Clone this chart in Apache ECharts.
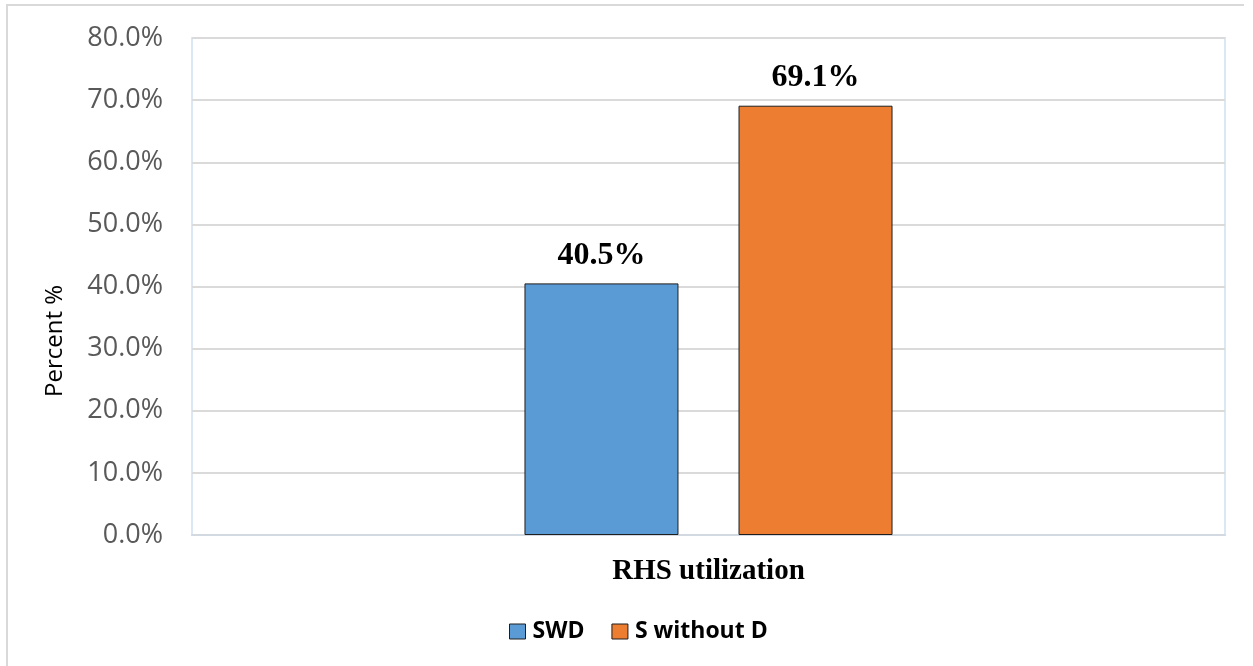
<!DOCTYPE html>
<html>
<head>
<meta charset="utf-8">
<style>
  html, body { margin: 0; padding: 0; background: #fff; }
  #chart { width: 1253px; height: 666px; }
</style>
<script src="https://cdn.jsdelivr.net/npm/echarts@6/dist/echarts.min.js"></script>
</head>
<body>
<div id="chart"></div>
<script>
// Category and series values
const categories = ['RHS utilization'];
const seriesNames = ['SWD', 'S without D'];
const swdValues = [40.5];
const sWithoutDValues = [69.1];
const yTicks = { min: 0, max: 80, interval: 10 };
const axisTitle = 'Percent %';

const chart = echarts.init(document.getElementById('chart'));

const labelStyle = {
  show: true,
  position: 'top',
  distance: 12,
  fontFamily: '"Liberation Serif", "DejaVu Serif", serif',
  fontWeight: 'bold',
  fontSize: 32,
  color: '#000',
  formatter: p => p.value.toFixed(1) + '%'
};

chart.setOption({
  backgroundColor: '#fff',
  animation: false,
  grid: {
    left: 192, right: 28, top: 38, bottom: 131,
    show: true,
    borderColor: '#dce7f5',
    borderWidth: 2,
    backgroundColor: 'transparent'
  },
  legend: {
    data: seriesNames,
    left: 504,
    top: 615,
    icon: 'rect',
    itemWidth: 16,
    itemHeight: 15,
    itemGap: 27,
    itemStyle: { borderColor: '#1e1e1e', borderWidth: 1 },
    textStyle: {
      fontFamily: '"Open Sans", "Noto Sans", sans-serif',
      fontWeight: 'bold',
      fontSize: 23,
      color: '#000',
      padding: [0, 0, 0, 2]
    }
  },
  xAxis: {
    type: 'category',
    data: categories,
    axisTick: { show: false },
    axisLine: { show: true, lineStyle: { color: '#d3d9e1', width: 2 } },
    axisLabel: {
      margin: 22,
      fontFamily: '"Liberation Serif", "DejaVu Serif", serif',
      fontWeight: 'bold',
      fontSize: 29,
      color: '#000'
    }
  },
  yAxis: {
    type: 'value',
    min: yTicks.min,
    max: yTicks.max,
    interval: yTicks.interval,
    axisLine: { show: false },
    axisTick: { show: false },
    splitLine: { lineStyle: { color: '#dadada', width: 2 } },
    axisLabel: {
      margin: 29,
      fontFamily: '"Open Sans", "Noto Sans", sans-serif',
      fontSize: 27,
      color: '#595959',
      formatter: v => v.toFixed(1) + '%'
    }
  },
  series: [
    {
      name: seriesNames[0],
      type: 'bar',
      data: swdValues,
      barWidth: 154,
      barGap: '39%',
      itemStyle: { color: '#5b9bd5', borderColor: '#1e1e1e', borderWidth: 1 },
      label: labelStyle
    },
    {
      name: seriesNames[1],
      type: 'bar',
      data: sWithoutDValues,
      barWidth: 154,
      barGap: '39%',
      itemStyle: { color: '#ed7d31', borderColor: '#1e1e1e', borderWidth: 1 },
      label: labelStyle
    }
  ],
  graphic: [
    // outer frame edges
    {
      type: 'polyline',
      shape: { points: [[7, 666], [7, 5], [1244, 5]] },
      style: { stroke: '#d9d9d9', lineWidth: 2, fill: null },
      silent: true
    },
    // rotated y-axis title
    {
      type: 'text',
      x: 55,
      y: 341,
      rotation: Math.PI / 2,
      style: {
        text: axisTitle,
        fontFamily: '"Open Sans", "Noto Sans", sans-serif',
        fontSize: 24,
        fill: '#000',
        align: 'center',
        verticalAlign: 'middle'
      },
      silent: true
    }
  ]
});
</script>
</body>
</html>
